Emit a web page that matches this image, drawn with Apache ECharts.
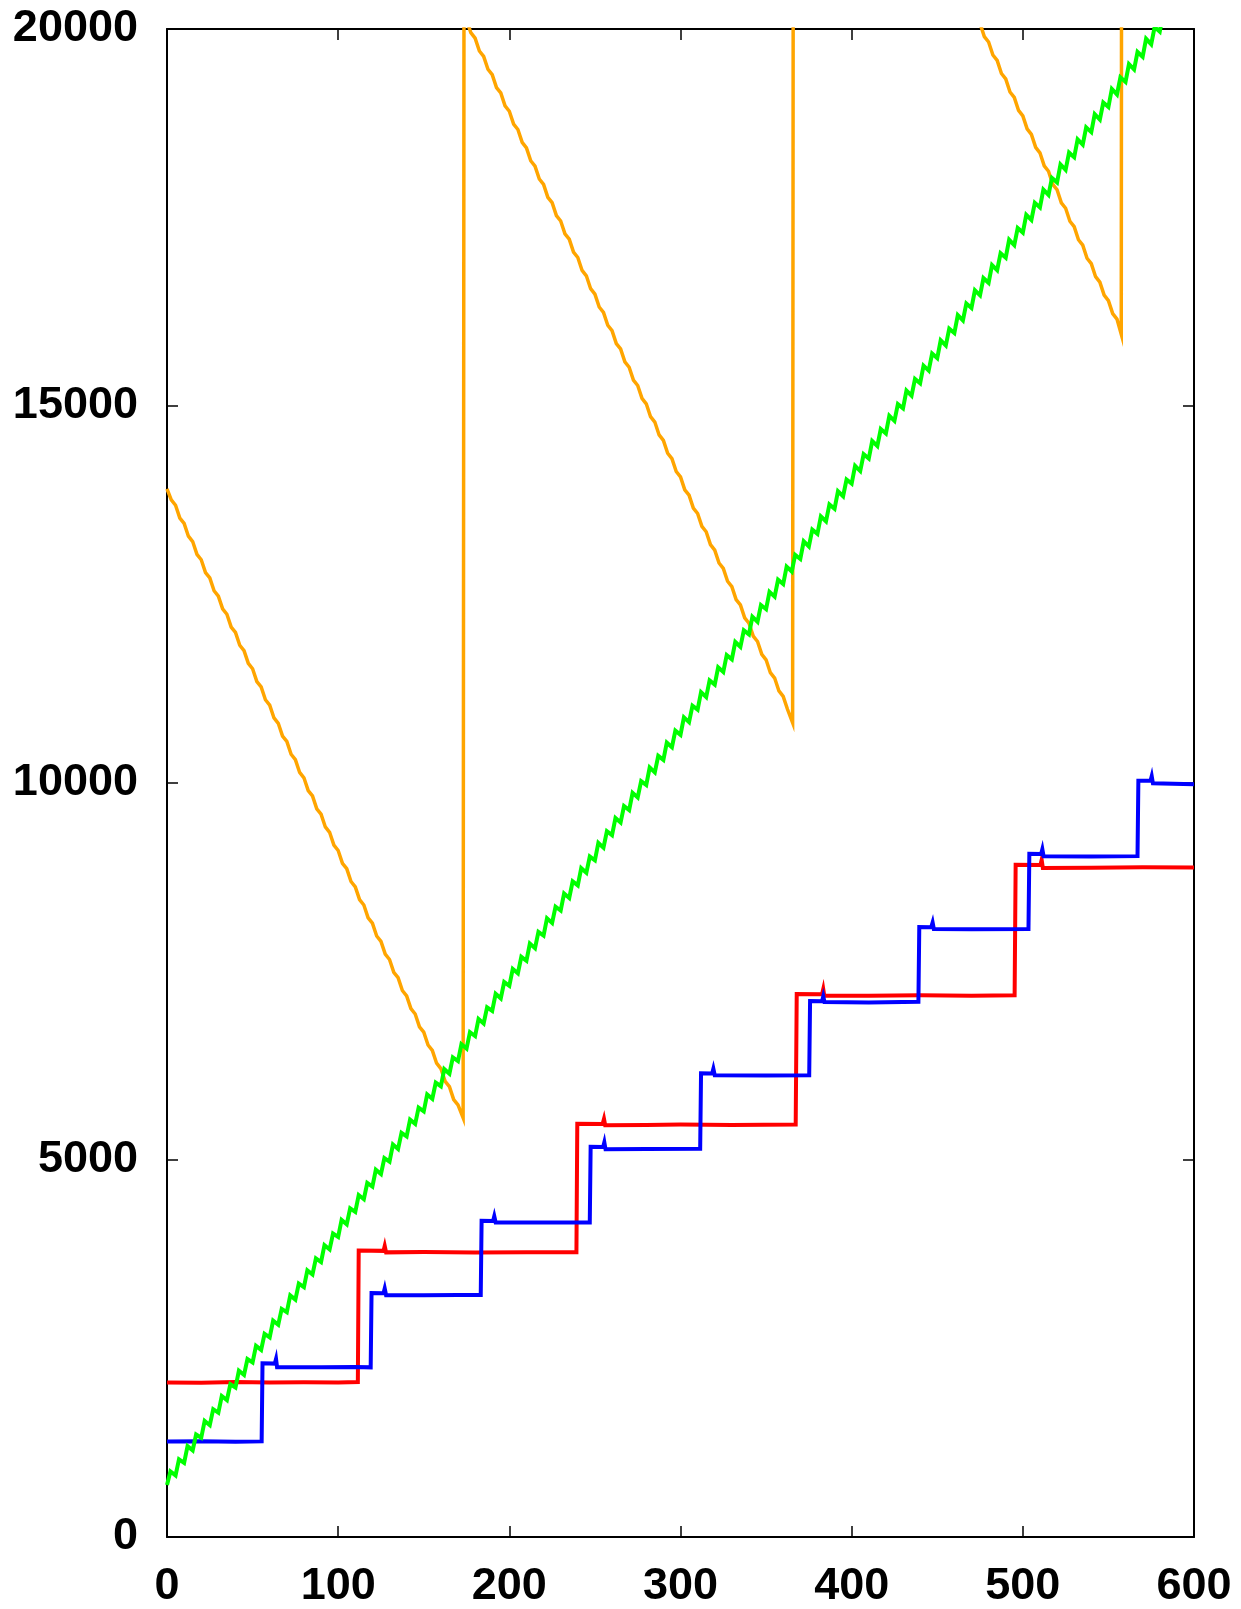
<!DOCTYPE html>
<html>
<head>
<meta charset="utf-8">
<script src="https://cdn.jsdelivr.net/npm/echarts@6/dist/echarts.min.js"></script>
<style>
html,body{margin:0;padding:0;background:#fff;}
#chart{width:1241px;height:1609px;}
</style>
</head>
<body>
<div id="chart"></div>
<script>
// Tick values
const xTicks = [0, 100, 200, 300, 400, 500, 600];
const yTicks = [0, 5000, 10000, 15000, 20000];

// Orange sawtooth series [x, y]
const orangeData = [
[0,13900],[2.5,13755],[5,13684],[7.5,13514],[10,13443],[12.5,13273],[15,13202],[17.5,13032],
[20,12961],[22.5,12791],[25,12720],[27.5,12550],[30,12479],[32.5,12309],[35,12238],[37.5,12068],
[40,11997],[42.5,11827],[45,11756],[47.5,11586],[50,11515],[52.5,11345],[55,11274],[57.5,11104],
[60,11033],[62.5,10863],[65,10792],[67.5,10622],[70,10551],[72.5,10381],[75,10310],[77.5,10140],
[80,10069],[82.5,9899],[85,9828],[87.5,9658],[90,9587],[92.5,9417],[95,9346],[97.5,9176],
[100,9105],[102.5,8935],[105,8864],[107.5,8694],[110,8623],[112.5,8453],[115,8382],[117.5,8212],
[120,8141],[122.5,7971],[125,7900],[127.5,7730],[130,7659],[132.5,7489],[135,7418],[137.5,7248],
[140,7177],[142.5,7007],[145,6936],[147.5,6766],[150,6695],[152.5,6525],[155,6454],[157.5,6284],
[160,6213],[162.5,6043],[165,5972],[167.5,5802],[170,5731],[173,5560],
[173.5,20200],[175,20122],[177.5,19951],[180,19879],[182.5,19708],[185,19637],[187.5,19466],
[190,19394],[192.5,19223],[195,19152],[197.5,18981],[200,18909],[202.5,18738],[205,18667],[207.5,18496],
[210,18424],[212.5,18253],[215,18182],[217.5,18011],[220,17939],[222.5,17768],[225,17697],[227.5,17526],
[230,17454],[232.5,17283],[235,17212],[237.5,17041],[240,16969],[242.5,16798],[245,16727],[247.5,16556],
[250,16484],[252.5,16313],[255,16242],[257.5,16071],[260,15999],[262.5,15828],[265,15757],[267.5,15586],
[270,15514],[272.5,15343],[275,15272],[277.5,15101],[280,15029],[282.5,14858],[285,14787],[287.5,14616],
[290,14544],[292.5,14373],[295,14302],[297.5,14131],[300,14059],[302.5,13888],[305,13817],[307.5,13646],
[310,13574],[312.5,13403],[315,13332],[317.5,13161],[320,13089],[322.5,12918],[325,12847],[327.5,12676],
[330,12604],[332.5,12433],[335,12362],[337.5,12191],[340,12119],[342.5,11948],[345,11877],[347.5,11706],
[350,11634],[352.5,11463],[355,11392],[357.5,11221],[360,11149],[362.5,10978],[365.5,10800],
[366,25390],[470,20318],[472.5,20145],[475,20073],[477.5,19900],[480,19828],[482.5,19655],[485,19583],
[487.5,19410],[490,19338],[492.5,19165],[495,19093],[497.5,18920],[500,18848],[502.5,18675],[505,18603],
[507.5,18430],[510,18358],[512.5,18185],[515,18113],[517.5,17940],[520,17868],[522.5,17695],[525,17623],
[527.5,17450],[530,17378],[532.5,17205],[535,17133],[537.5,16960],[540,16888],[542.5,16715],[545,16643],
[547.5,16470],[550,16398],[552.5,16225],[555,16153],[557.5,15950],
[558,30580],[600,28540]
];

// Red step series [x, y]
const redData = [
[0,2050],[20,2045],[40,2055],[60,2050],[80,2052],[100,2048],[111.5,2055],
[112,3800],[126.5,3795],[127.2,3860],[128,3775],[150,3780],[180,3772],[210,3778],[239.2,3775],
[239.7,5480],[254.5,5478],[255.3,5545],[256,5462],[280,5465],[300,5470],[330,5465],[367.3,5470],
[367.9,7200],[382.7,7198],[383.4,7265],[384,7178],[410,7180],[440,7185],[470,7180],[495.2,7185],
[495.8,8915],[510.3,8913],[511,8980],[511.7,8872],[540,8875],[570,8883],[600,8880]
];

// Blue step series [x, y]
const blueData = [
[0,1265],[20,1270],[40,1262],[55.3,1268],
[55.8,2305],[63,2300],[63.7,2360],[64.3,2252],[90,2250],[110,2255],[119,2250],
[119.5,3235],[126.5,3232],[127.2,3295],[128,3207],[150,3205],[170,3210],[183.3,3210],
[183.8,4195],[190.5,4192],[191.2,4255],[192,4172],[220,4170],[247,4172],
[247.5,5175],[254.8,5173],[255.5,5235],[256.2,5143],[280,5145],[311.5,5150],
[312,6150],[318.5,6148],[319.2,6210],[320,6125],[350,6120],[375.2,6123],
[375.7,7108],[382.7,7106],[383.4,7170],[384.1,7095],[410,7090],[439,7100],
[439.5,8090],[446.5,8088],[447.3,8150],[448,8065],[470,8060],[503.3,8065],
[503.8,9060],[510.7,9058],[511.4,9120],[512.1,9029],[540,9025],[567,9030],
[567.5,10031],[574.6,10029],[575.3,10090],[576,9996],[600,9982]
];

// Green rising series [x, y]
const greenData = [
[0,690],[2,870],[5,817],[7,1030],[10,983],[12,1205],[15,1150],[17,1360],[20,1316],[22,1540],
[25,1483],[27,1695],[30,1649],[32,1870],[35,1816],[37,2025],[40,1982],[42,2205],[45,2149],[47,2360],
[50,2315],[52,2535],[55,2482],[57,2695],[60,2648],[62,2870],[65,2815],[67,3025],[70,2981],[72,3205],
[75,3148],[77,3360],[80,3314],[82,3535],[85,3481],[87,3695],[90,3647],[92,3870],[95,3814],[97,4025],
[100,3980],[102,4205],[105,4147],[107,4360],[110,4313],[112,4535],[115,4480],[117,4695],[120,4646],[122,4870],
[125,4813],[127,5025],[130,4979],[132,5205],[135,5146],[137,5360],[140,5312],[142,5535],[145,5479],[147,5695],
[150,5645],[152,5870],[155,5812],[157,6025],[160,5978],[162,6205],[165,6145],[167,6360],[170,6311],[172,6535],
[175,6478],[177,6695],[180,6644],[182,6870],[185,6811],[187,7025],[190,6977],[192,7205],[195,7144],[197,7360],
[200,7310],[202,7535],[205,7477],[207,7695],[210,7643],[212,7870],[215,7810],[217,8025],[220,7976],[222,8205],
[225,8143],[227,8360],[230,8309],[232,8535],[235,8476],[237,8695],[240,8642],[242,8870],[245,8809],[247,9025],
[250,8975],[252,9205],[255,9142],[257,9360],[260,9308],[262,9535],[265,9475],[267,9695],[270,9641],[272,9870],
[275,9808],[277,10025],[280,9974],[282,10205],[285,10141],[287,10360],[290,10307],[292,10535],[295,10474],[297,10695],
[300,10640],[302,10870],[305,10807],[307,11025],[310,10973],[312,11205],[315,11140],[317,11360],[320,11306],[322,11535],
[325,11473],[327,11695],[330,11639],[332,11870],[335,11806],[337,12025],[340,11972],[342,12205],[345,12139],[347,12360],
[350,12305],[352,12535],[355,12472],[357,12695],[360,12638],[362,12870],[365,12805],[367,13025],[370,12971],[372,13205],
[375,13138],[377,13360],[380,13304],[382,13535],[385,13471],[387,13695],[390,13637],[392,13870],[395,13804],[397,14025],
[400,13970],[402,14205],[405,14137],[407,14360],[410,14303],[412,14535],[415,14470],[417,14695],[420,14636],[422,14870],
[425,14803],[427,15025],[430,14969],[432,15205],[435,15136],[437,15360],[440,15302],[442,15535],[445,15469],[447,15695],
[450,15635],[452,15870],[455,15802],[457,16025],[460,15968],[462,16205],[465,16135],[467,16360],[470,16301],[472,16535],
[475,16468],[477,16695],[480,16634],[482,16870],[485,16801],[487,17025],[490,16967],[492,17205],[495,17134],[497,17360],
[500,17300],[502,17535],[505,17467],[507,17695],[510,17633],[512,17870],[515,17800],[517,18025],[520,17966],[522,18205],
[525,18133],[527,18360],[530,18299],[532,18535],[535,18466],[537,18695],[540,18632],[542,18870],[545,18799],[547,19025],
[550,18965],[552,19205],[555,19132],[557,19360],[560,19298],[562,19535],[565,19465],[567,19695],[570,19631],[572,19870],
[575,19798],[577,20025],[580,19964],[582,20205],[585,20131],[587,20360],[590,20297]
];

const FONT = "'Liberation Sans', Arial, Helvetica, sans-serif";
const chart = echarts.init(document.getElementById('chart'), null, {renderer: 'canvas'});

function axisBase(extra) {
  return Object.assign({
    type: 'value',
    splitLine: {show: false},
    axisLine: {show: true, onZero: false, lineStyle: {color: '#000', width: 2}},
    axisTick: {show: true, inside: true, length: 11, lineStyle: {color: '#000', width: 1.5}},
    minorTick: {show: false}
  }, extra);
}
const labelStyle = {color: '#000', fontSize: 45, fontWeight: 'bold', fontFamily: FONT,
  formatter: function (v) { return String(v); }};

const xMin = xTicks[0], xMax = xTicks[xTicks.length - 1], xInt = xTicks[1] - xTicks[0];
const yMin = yTicks[0], yMax = yTicks[yTicks.length - 1], yInt = yTicks[1] - yTicks[0];

function lineSeries(data, color, w) {
  return {
    type: 'line', data: data, xAxisIndex: 0, yAxisIndex: 0,
    showSymbol: false, symbol: 'none', clip: true, animation: false,
    lineStyle: {color: color, width: w, join: 'miter'},
    emphasis: {disabled: true}
  };
}

chart.setOption({
  animation: false,
  backgroundColor: '#fff',
  grid: {left: 167, right: 47, top: 29, bottom: 70, containLabel: false},
  xAxis: [
    axisBase({position: 'bottom', min: xMin, max: xMax, interval: xInt,
      axisLabel: Object.assign({margin: 27}, labelStyle)}),
    axisBase({position: 'top', min: xMin, max: xMax, interval: xInt, axisLabel: {show: false}})
  ],
  yAxis: [
    axisBase({position: 'left', min: yMin, max: yMax, interval: yInt,
      axisLabel: Object.assign({margin: 29}, labelStyle)}),
    axisBase({position: 'right', min: yMin, max: yMax, interval: yInt, axisLabel: {show: false}})
  ],
  series: [
    lineSeries(orangeData, '#FFA500', 3.5),
    lineSeries(redData, '#FF0000', 4),
    lineSeries(blueData, '#0000FF', 4),
    lineSeries(greenData, '#00FF00', 4)
  ]
});
</script>
</body>
</html>
